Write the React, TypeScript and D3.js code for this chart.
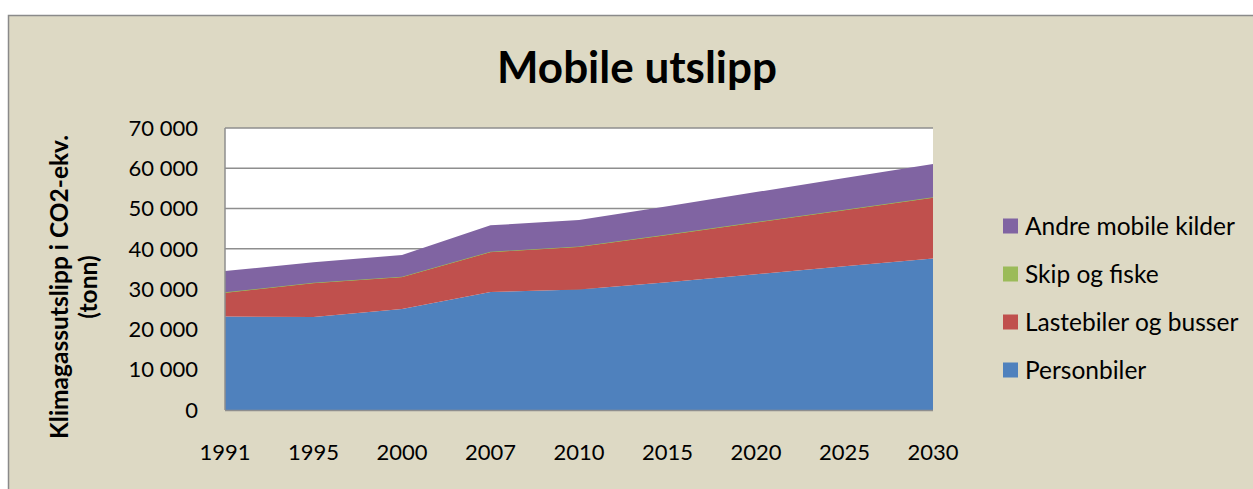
import { useEffect, useRef } from "react";
import * as d3 from "d3";

const years = ["1991", "1995", "2000", "2007", "2010", "2015", "2020", "2025", "2030"];
const personbiler = [23200, 23100, 25100, 29300, 29900, 31700, 33700, 35700, 37600];
const lastebiler = [6000, 8500, 8000, 10000, 10700, 11850, 12950, 14000, 15200];
const skip = [0, 0, 0, 0, 0, 0, 0, 0, 0];
const andre = [5300, 5050, 5380, 6550, 6550, 7030, 7440, 7860, 8260];

const seriesNames = ["Personbiler", "Lastebiler og busser", "Skip og fiske", "Andre mobile kilder"];
const seriesColors = ["#4F81BD", "#C0504D", "#9BBB59", "#8064A2"];
const yTicks = [0, 10000, 20000, 30000, 40000, 50000, 60000, 70000];

const FONT = "Lato, 'Open Sans', sans-serif";

const App = () => {
  const svgRef = useRef<SVGSVGElement | null>(null);

  useEffect(() => {
    const svg = d3.select(svgRef.current);
    svg.selectAll("*").remove();

    const W = 1253;
    const H = 489;
    const plot = { left: 225, right: 933, top: 128, bottom: 410 };

    // chart frame
    svg.append("rect").attr("width", W).attr("height", H).attr("fill", "#ffffff");
    svg
      .append("rect")
      .attr("x", 8.5)
      .attr("y", 15.5)
      .attr("width", W + 20)
      .attr("height", H + 20)
      .attr("fill", "#DDD9C4")
      .attr("stroke", "#8a8a8a")
      .attr("stroke-width", 1.5);

    const table = years.map((y, i) => ({
      year: y,
      [seriesNames[0]]: personbiler[i],
      [seriesNames[1]]: lastebiler[i],
      [seriesNames[2]]: skip[i],
      [seriesNames[3]]: andre[i],
    }));

    const x = d3.scalePoint<string>().domain(years).range([plot.left, plot.right]);
    const y = d3.scaleLinear().domain([0, 70000]).range([plot.bottom, plot.top]);

    // plot area
    svg
      .append("rect")
      .attr("x", plot.left)
      .attr("y", plot.top)
      .attr("width", plot.right - plot.left)
      .attr("height", plot.bottom - plot.top)
      .attr("fill", "#ffffff");

    // gridlines
    svg
      .append("g")
      .selectAll("line")
      .data(yTicks.slice(1))
      .join("line")
      .attr("x1", plot.left)
      .attr("x2", plot.right)
      .attr("y1", (d) => y(d))
      .attr("y2", (d) => y(d))
      .attr("stroke", "#8e8e8e")
      .attr("stroke-width", 1.5);

    const stack = d3.stack<any>().keys(seriesNames);
    const layers = stack(table);

    const area = d3
      .area<any>()
      .x((d) => x(d.data.year) as number)
      .y0((d) => y(d[0]))
      .y1((d) => y(d[1]));

    svg
      .append("g")
      .selectAll("path")
      .data(layers)
      .join("path")
      .attr("d", area)
      .attr("fill", (_, i) => seriesColors[i])
      .attr("stroke", (_, i) => (i === 2 ? seriesColors[2] : "none"))
      .attr("stroke-width", 1);

    // axis lines
    svg
      .append("line")
      .attr("x1", plot.left)
      .attr("x2", plot.left)
      .attr("y1", plot.top)
      .attr("y2", plot.bottom)
      .attr("stroke", "#8e8e8e")
      .attr("stroke-width", 1.5);
    svg
      .append("line")
      .attr("x1", plot.left)
      .attr("x2", plot.right)
      .attr("y1", plot.bottom + 0.5)
      .attr("y2", plot.bottom + 0.5)
      .attr("stroke", "#8e8e8e")
      .attr("stroke-width", 1.5);

    const fmt = (v: number) => d3.format(",")(v).replace(/,/g, " ");

    // y tick labels
    svg
      .append("g")
      .selectAll("text")
      .data(yTicks)
      .join("text")
      .attr("x", 198)
      .attr("y", (d) => y(d))
      .attr("dy", "0.35em")
      .attr("text-anchor", "end")
      .attr("font-family", FONT)
      .attr("font-size", 22)
      .attr("fill", "#000")
      .text(fmt);

    // x tick labels
    svg
      .append("g")
      .selectAll("text")
      .data(years)
      .join("text")
      .attr("x", (d) => x(d) as number)
      .attr("y", 460)
      .attr("text-anchor", "middle")
      .attr("font-family", FONT)
      .attr("font-size", 22)
      .attr("fill", "#000")
      .text((d) => d);

    // title
    svg
      .append("text")
      .attr("x", 637)
      .attr("y", 83)
      .attr("text-anchor", "middle")
      .attr("font-family", FONT)
      .attr("font-weight", "bold")
      .attr("font-size", 44)
      .text("Mobile utslipp");

    // y axis title
    const yt = svg
      .append("text")
      .attr("transform", "translate(68, 287) rotate(-90)")
      .attr("text-anchor", "middle")
      .attr("font-family", FONT)
      .attr("font-weight", "bold")
      .attr("font-size", 24.5);
    yt.append("tspan").attr("x", 0).attr("y", 0).text("Klimagassutslipp i CO2-ekv.");
    yt.append("tspan").attr("x", 0).attr("y", 29).text("(tonn)");

    // legend (reverse order, top = Andre)
    const legendItems = seriesNames.map((n, i) => ({ n, c: seriesColors[i] })).reverse();
    const lg = svg
      .append("g")
      .selectAll("g")
      .data(legendItems)
      .join("g")
      .attr("transform", (_, i) => `translate(1003, ${226 + i * 48})`);
    lg.append("rect")
      .attr("x", 0)
      .attr("y", -7.5)
      .attr("width", 15)
      .attr("height", 15)
      .attr("fill", (d) => d.c);
    lg.append("text")
      .attr("x", 22)
      .attr("dy", "0.35em")
      .attr("font-family", FONT)
      .attr("font-size", 24.5)
      .attr("fill", "#000")
      .text((d) => d.n);
  }, []);

  return (
    <svg
      ref={svgRef}
      width={1253}
      height={489}
      style={{ position: "fixed", left: 0, top: 0 }}
    />
  );
};

export default App;
